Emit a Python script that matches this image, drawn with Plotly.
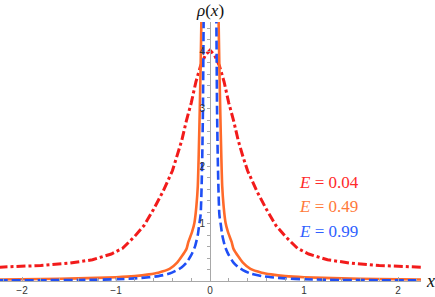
import plotly.graph_objects as go

# E = 0.04 (red, dash-dot)
x_red = [-2.25, -2.0, -1.8, -1.5, -1.25, -1.05, -0.93, -0.8, -0.7, -0.6, -0.5, -0.4, -0.35, -0.3, -0.25, -0.2, -0.15, -0.1, -0.05,
         0.0, 0.05, 0.1, 0.15, 0.2, 0.25, 0.3, 0.35, 0.4, 0.5, 0.6, 0.7, 0.8, 0.93, 1.05, 1.25, 1.5, 1.8, 2.0, 2.25]
y_red = [0.24, 0.255, 0.27, 0.31, 0.37, 0.47, 0.57, 0.78, 0.97, 1.25, 1.56, 1.92, 2.17, 2.45, 2.8, 3.1, 3.47, 3.75, 3.93,
         4.02, 3.93, 3.75, 3.47, 3.1, 2.8, 2.45, 2.17, 1.92, 1.56, 1.25, 0.97, 0.78, 0.57, 0.47, 0.37, 0.31, 0.27, 0.255, 0.24]

# E = 0.49 (orange, solid)
x_orange = [-2.25, -1.8, -1.4, -1.0, -0.8, -0.65, -0.55, -0.43, -0.35, -0.3, -0.25, -0.23, -0.19, -0.165, -0.145, -0.13, -0.12, -0.11, -0.1, -0.09, -0.08,
            0.08, 0.09, 0.1, 0.11, 0.12, 0.13, 0.145, 0.165, 0.19, 0.23, 0.25, 0.3, 0.35, 0.43, 0.55, 0.65, 0.8, 1.0, 1.4, 1.8, 2.25]
y_orange = [0.025, 0.035, 0.045, 0.065, 0.085, 0.115, 0.145, 0.21, 0.32, 0.43, 0.56, 0.68, 0.86, 1.02, 1.3, 1.65, 2.2, 2.9, 3.7, 4.7, 6.0,
            6.0, 4.7, 3.7, 2.9, 2.2, 1.65, 1.3, 1.02, 0.86, 0.68, 0.56, 0.43, 0.32, 0.21, 0.145, 0.115, 0.085, 0.065, 0.045, 0.035, 0.025]

# E = 0.99 (blue, dashed)
x_blue = [-2.25, -1.4, -1.0, -0.8, -0.65, -0.55, -0.43, -0.35, -0.3, -0.25, -0.2, -0.16, -0.13, -0.115, -0.1, -0.09, -0.082, -0.075, -0.068, -0.06,
          0.06, 0.068, 0.075, 0.082, 0.09, 0.1, 0.115, 0.13, 0.16, 0.2, 0.25, 0.3, 0.35, 0.43, 0.55, 0.65, 0.8, 1.0, 1.4, 2.25]
y_blue = [0.01, 0.018, 0.03, 0.045, 0.065, 0.085, 0.13, 0.19, 0.24, 0.32, 0.45, 0.6, 0.8, 0.98, 1.15, 1.6, 2.2, 3.0, 4.5, 6.0,
          6.0, 4.5, 3.0, 2.2, 1.6, 1.15, 0.98, 0.8, 0.6, 0.45, 0.32, 0.24, 0.19, 0.13, 0.085, 0.065, 0.045, 0.03, 0.018, 0.01]

labels = ["E = 0.04", "E = 0.49", "E = 0.99"]
x_ticks = [-2, -1, 0, 1, 2]
y_ticks = [1, 2, 3, 4]

RED = "#f21b1b"
ORANGE = "#ff6a2a"
BLUE = "#1f4ff5"

fig = go.Figure()
fig.add_trace(go.Scatter(x=x_red, y=y_red, mode="lines",
                         line=dict(color=RED, width=3, dash="9px,3px,3px,3px")))
fig.add_trace(go.Scatter(x=x_orange, y=y_orange, mode="lines",
                         line=dict(color=ORANGE, width=2.6, shape="spline", smoothing=0.6)))
fig.add_trace(go.Scatter(x=x_blue, y=y_blue, mode="lines",
                         line=dict(color=BLUE, width=2.6, dash="9px,4px",
                                   shape="spline", smoothing=0.6)))

axis_col = "#a8a8a8"
tick_font = dict(family="Liberation Sans", size=10, color="#333")

fig.update_layout(
    width=435, height=297,
    margin=dict(l=0, r=14, t=22, b=16, autoexpand=False),
    plot_bgcolor="white", paper_bgcolor="white",
    showlegend=False,
    xaxis=dict(range=[-210 / 94, 211 / 94], showgrid=False, zeroline=False,
               showline=True, linecolor=axis_col, linewidth=1,
               tickvals=x_ticks, ticks="inside", ticklen=4, tickcolor=axis_col,
               minor=dict(dtick=0.2, ticks="inside", ticklen=3, tickcolor=axis_col),
               tickfont=tick_font, automargin=False),
    yaxis=dict(range=[0, 259 / 57.4], showgrid=False, zeroline=False,
               anchor="free", position=210 / 421,
               showline=True, linecolor=axis_col, linewidth=1,
               tickvals=y_ticks, ticks="outside", ticklen=3, tickcolor=axis_col,
               minor=dict(dtick=0.2, ticks="outside", ticklen=3, tickcolor=axis_col),
               tickfont=tick_font, automargin=False),
)

math_font = "Liberation Serif"
fig.add_annotation(text="<i>ρ</i>(<i>x</i>)", xref="x", yref="paper", x=0, y=1.0,
                   yanchor="bottom", showarrow=False,
                   font=dict(family=math_font, size=17, color="#111"))
fig.add_annotation(text="<i>x</i>", xref="paper", yref="y", x=1.0, y=0,
                   xanchor="left", xshift=3, showarrow=False,
                   font=dict(family=math_font, size=18, color="#111"))

label_colors = ["#ff2a2a", "#ff7a3a", "#2f5fff"]
label_y = [1.72, 1.29, 0.87]
for t, c, yy in zip(labels, label_colors, label_y):
    e, rest = t.split(" ", 1)
    fig.add_annotation(text="<i>" + e + "</i> " + rest,
                       xref="x", yref="y", x=0.925, y=yy, xanchor="left",
                       showarrow=False, font=dict(family=math_font, size=17, color=c))

fig.write_html("out.html", config={"displayModeBar": False},
               post_script="document.body.style.margin='0';document.body.style.padding='0';")
